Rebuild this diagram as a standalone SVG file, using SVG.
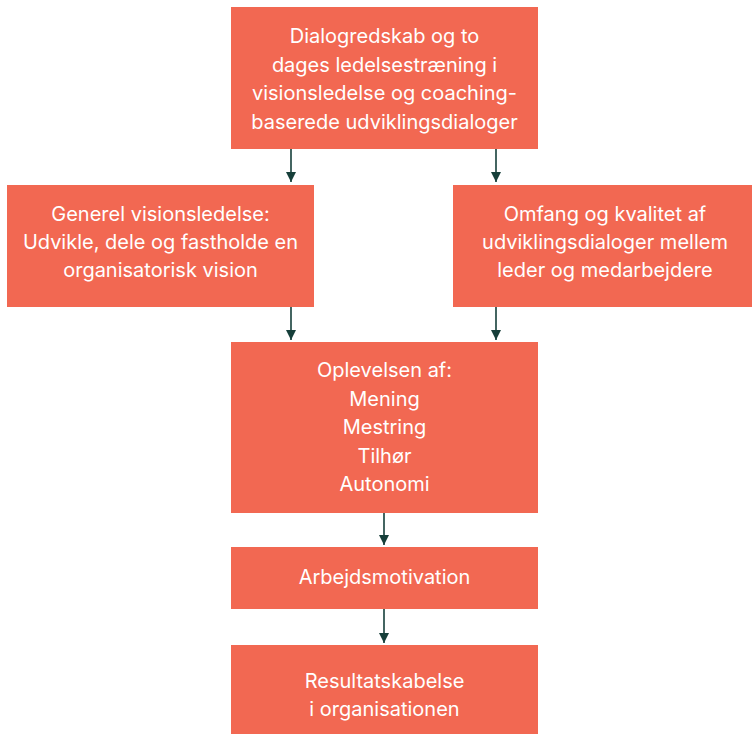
<svg xmlns="http://www.w3.org/2000/svg" width="752" height="734" viewBox="0 0 752 734">
  <style>
    .box { fill: #F26852; }
    .label { fill: #FFFFFF; font-family: Inter, "Noto Sans", "Liberation Sans", sans-serif; font-size: 20px; text-anchor: middle; }
    .edge { stroke: #163F3A; stroke-width: 1.6; fill: none; marker-end: url(#head); }
  </style>
  <defs>
    <marker id="head" viewBox="0 0 10 10" refX="10" refY="5" markerWidth="10" markerHeight="10" markerUnits="userSpaceOnUse" orient="auto">
      <path d="M0,0 L10,5 L0,10 Z" fill="#163F3A"/>
    </marker>
  </defs>
  <rect width="752" height="734" fill="#FFFFFF"/>

  <g id="connectors">
    <line class="edge" x1="291" y1="149" x2="291" y2="182"/>
    <line class="edge" x1="496" y1="149" x2="496" y2="182"/>
    <line class="edge" x1="291" y1="307" x2="291" y2="340"/>
    <line class="edge" x1="496" y1="307" x2="496" y2="340"/>
    <line class="edge" x1="384" y1="513" x2="384" y2="545"/>
    <line class="edge" x1="384" y1="609" x2="384" y2="643"/>
  </g>

  <g id="training">
    <rect class="box" x="231" y="7" width="307" height="142"/>
    <text class="label" x="384.5" y="43">Dialogredskab og to</text>
    <text class="label" x="384.5" y="71.5">dages ledelsestræning i</text>
    <text class="label" x="384.5" y="100">visionsledelse og coaching-</text>
    <text class="label" x="384.5" y="128.5">baserede udviklingsdialoger</text>
  </g>

  <g id="vision">
    <rect class="box" x="7" y="185" width="307" height="122"/>
    <text class="label" x="160.5" y="221">Generel visionsledelse:</text>
    <text class="label" x="160.5" y="249">Udvikle, dele og fastholde en</text>
    <text class="label" x="160.5" y="277">organisatorisk vision</text>
  </g>

  <g id="dialogues">
    <rect class="box" x="453" y="185" width="299" height="122"/>
    <text class="label" x="605" y="220.5">Omfang og kvalitet af</text>
    <text class="label" x="605" y="248.5">udviklingsdialoger mellem</text>
    <text class="label" x="605" y="277">leder og medarbejdere</text>
  </g>

  <g id="experience">
    <rect class="box" x="231" y="342" width="307" height="171"/>
    <text class="label" x="384.5" y="377">Oplevelsen af:</text>
    <text class="label" x="384.5" y="405.5">Mening</text>
    <text class="label" x="384.5" y="434">Mestring</text>
    <text class="label" x="384.5" y="462.5">Tilhør</text>
    <text class="label" x="384.5" y="491">Autonomi</text>
  </g>

  <g id="motivation">
    <rect class="box" x="231" y="547" width="307" height="62"/>
    <text class="label" x="384.5" y="584">Arbejdsmotivation</text>
  </g>

  <g id="results">
    <rect class="box" x="231" y="645" width="307" height="89"/>
    <text class="label" x="384.5" y="688">Resultatskabelse</text>
    <text class="label" x="384.5" y="716">i organisationen</text>
  </g>
</svg>
